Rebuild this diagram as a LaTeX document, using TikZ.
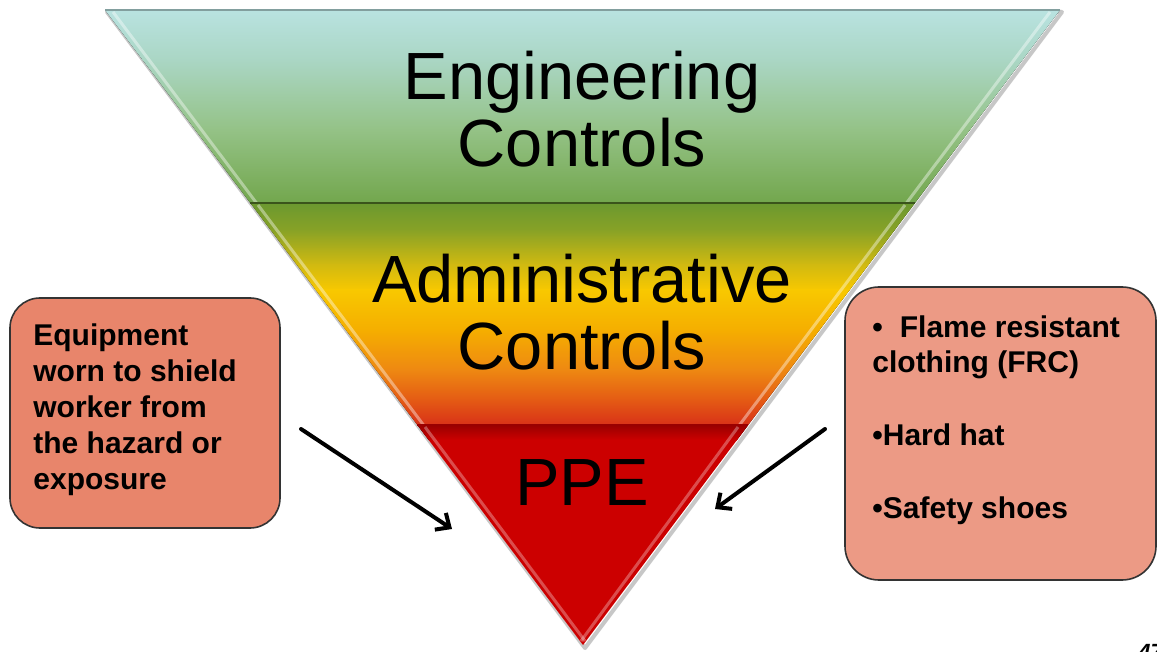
\documentclass[tikz,border=0pt]{standalone}
\usepackage{fontspec}
\setmainfont{Liberation Sans}
\usetikzlibrary{arrows.meta}
\definecolor{eA}{HTML}{B9E3E1}
\definecolor{eB}{HTML}{AAD6C4}
\definecolor{eC}{HTML}{94C286}
\definecolor{eD}{HTML}{72A64C}
\definecolor{aA}{HTML}{6A9830}
\definecolor{aB}{HTML}{88A226}
\definecolor{aC}{HTML}{D2BA10}
\definecolor{aD}{HTML}{F8C800}
\definecolor{aE}{HTML}{F5AE00}
\definecolor{aF}{HTML}{EE8812}
\definecolor{aG}{HTML}{E45A14}
\definecolor{aH}{HTML}{D83018}
\definecolor{pR}{HTML}{CC0000}
\definecolor{lboxc}{HTML}{E8856B}
\definecolor{rboxc}{HTML}{EC9A85}
\tikzset{
  tri/.style={font=\fontsize{33.4}{33.4}\selectfont, inner sep=0pt, text=black},
  boxtxt/.style={font=\bfseries\fontsize{15}{18}\selectfont, inner sep=0pt, anchor=base west},
  salmon/.style={draw=black!80, line width=0.8pt, rounded corners=15pt, inner sep=0pt},
  arr/.style={-{Straight Barb[length=5.5pt,width=10pt]}, line width=2pt, line cap=round, black},
  bevel/.style={white, opacity=0.4, line width=1.5pt},
}
\begin{document}
\begin{tikzpicture}[x=0.5pt,y=-0.5pt]
\useasboundingbox (0,0) rectangle (1157,652);
\fill[white] (0,0) rectangle (1157,652);
% soft shadow
\draw[black!22, line width=2pt, line join=round] (107,12) -- (1062,12) -- (585,648) -- cycle;
% band 1
\begin{scope}
\clip (105,10) -- (1060,10) -- (915,203) -- (250.3,203) -- cycle;
\fill[top color=eA, bottom color=eB] (100,9) rectangle (1065,60.5);
\fill[top color=eB, bottom color=eC] (100,60) rectangle (1065,130.5);
\fill[top color=eC, bottom color=eD] (100,130) rectangle (1065,204);
\draw[bevel] (113,12) -- (258,205);
\draw[bevel] (1050,12) -- (905,205);
\end{scope}
% band 2
\begin{scope}
\clip (250.3,203) -- (915,203) -- (748.2,425) -- (417.4,425) -- cycle;
\fill[top color=aA, bottom color=aB] (240,202) rectangle (925,230.5);
\fill[top color=aB, bottom color=aC] (240,230) rectangle (925,265.5);
\fill[top color=aC, bottom color=aD] (240,265) rectangle (925,290.5);
\fill[top color=aD, bottom color=aE] (240,290) rectangle (925,330.5);
\fill[top color=aE, bottom color=aF] (240,330) rectangle (925,370.5);
\fill[top color=aF, bottom color=aG] (240,370) rectangle (925,400.5);
\fill[top color=aG, bottom color=aH] (240,400) rectangle (925,426);
\draw[bevel] (258,205) -- (425,427);
\draw[bevel] (905,205) -- (738,427);
\end{scope}
% band 3
\begin{scope}
\clip (417.4,425) -- (748.2,425) -- (583,645) -- cycle;
\fill[pR] (410,424) rectangle (760,650);
\fill[top color=black!25!pR, bottom color=pR] (410,425) rectangle (760,440);
\draw[bevel, opacity=0.3] (425,427) -- (585,641);
\draw[bevel, opacity=0.3] (738,427) -- (581,641);
\end{scope}
% separators and top edge
\draw[black!30!eA, line width=1pt] (105,10) -- (1060,10);
\draw[black!45!aA, line width=1pt] (250.3,203) -- (915,203);
\draw[black!25!pR, line width=1pt] (417.4,425) -- (748.2,425);
% triangle texts
\node[tri, anchor=base] (eng1) at (582,100) {Engineering};
\node[tri, anchor=base] (eng2) at (582,167) {Controls};
\node[tri, anchor=base] (adm1) at (582,303) {Administrative};
\node[tri, anchor=base] (adm2) at (582,370) {Controls};
\node[tri, anchor=base] (ppe) at (582,505) {PPE};
% boxes
\node[salmon, fill=lboxc, minimum width=135pt, minimum height=115pt] (lb) at (145,413) {};
\node[salmon, fill=rboxc, rounded corners=17pt, minimum width=155.5pt, minimum height=146.5pt] (rb) at (1000.5,433.5) {};
\node[boxtxt] (l1) at (33,345) {Equipment};
\node[boxtxt] (l2) at (33,381) {worn to shield};
\node[boxtxt] (l3) at (33,417) {worker from};
\node[boxtxt] (l4) at (33,453) {the hazard or};
\node[boxtxt] (l5) at (33,489) {exposure};
\node[boxtxt] (r1) at (872,337) {•\hspace{8.5pt}Flame resistant};
\node[boxtxt] (r2) at (872,372) {clothing (FRC)};
\node[boxtxt] (r3) at (872,445) {•Hard hat};
\node[boxtxt] (r4) at (872,518) {•Safety shoes};
% arrows
\coordinate (la1) at (301,429);
\coordinate (la2) at (452,529);
\coordinate (ra1) at (825,429);
\coordinate (ra2) at (715,509);
\draw[arr] (la1) -- (la2);
\draw[arr] (ra1) -- (ra2);
% page number (cut off at the bottom edge, as in the reference)
\node[font=\bfseries\itshape\fontsize{11}{11}\selectfont, anchor=north west, inner sep=0pt] (pg) at (1138,644) {47};
\end{tikzpicture}
\end{document}
